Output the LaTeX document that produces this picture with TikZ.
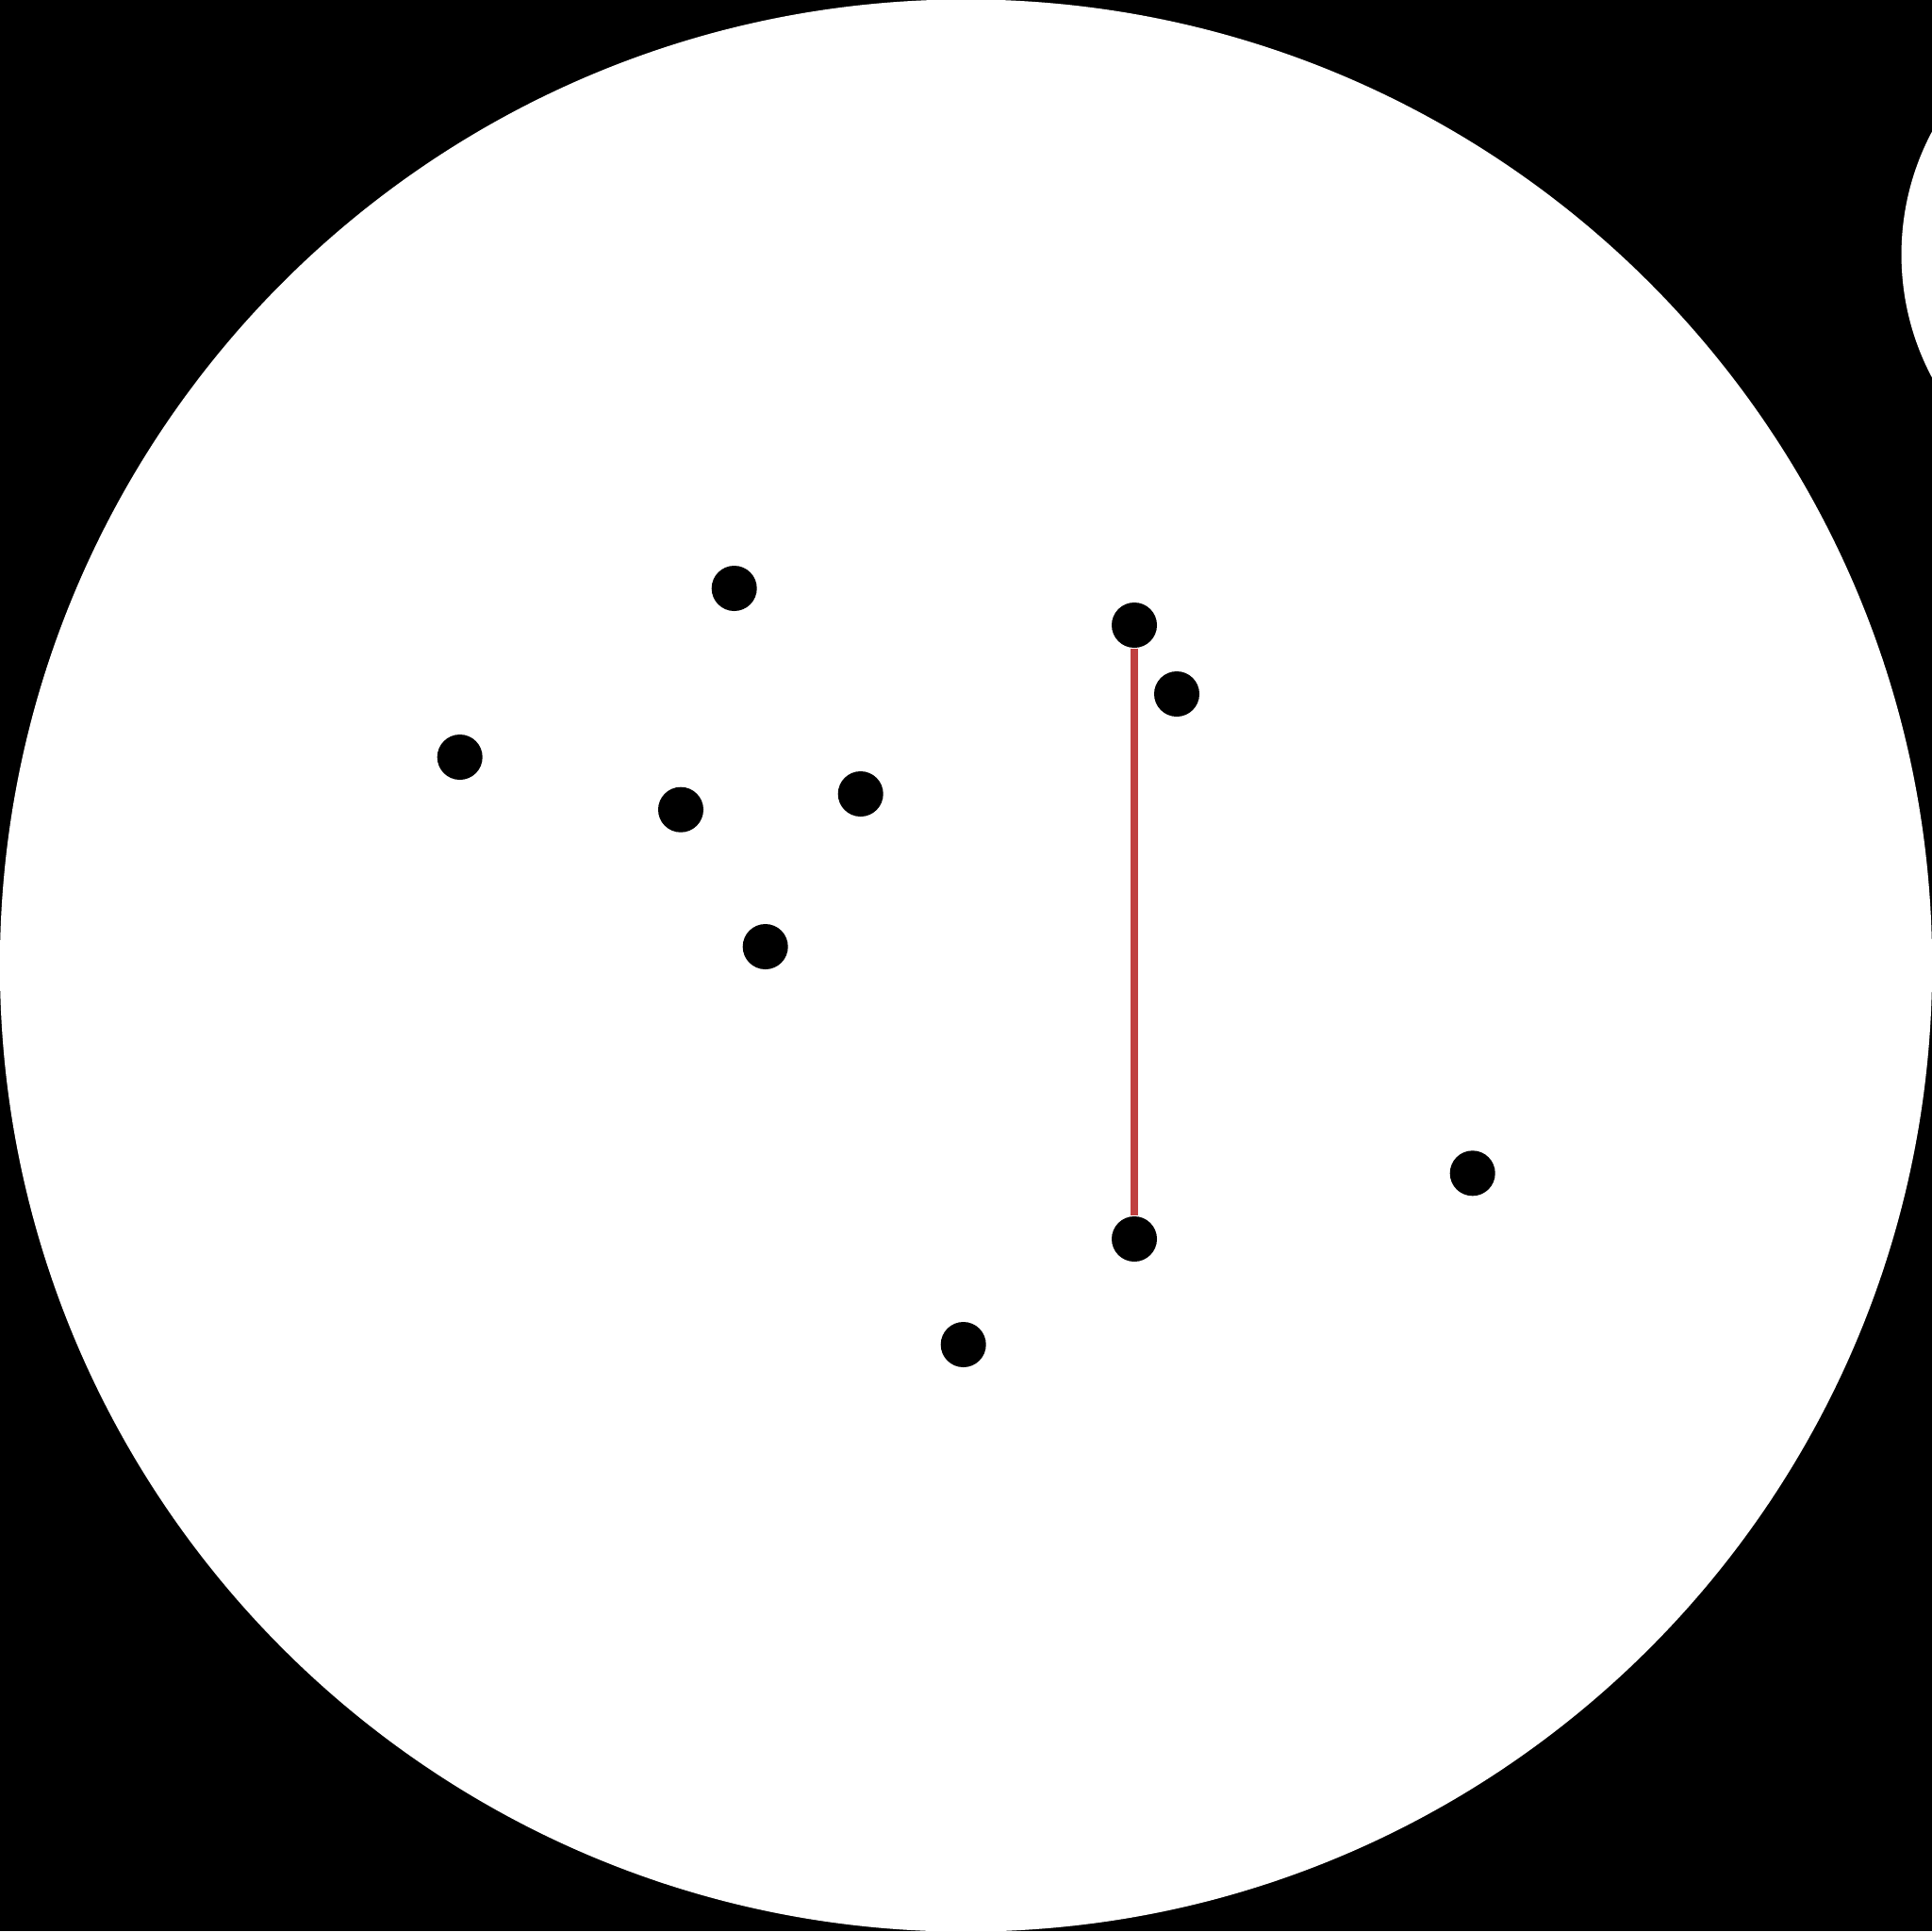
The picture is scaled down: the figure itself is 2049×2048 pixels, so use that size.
\documentclass[tikz,border=0pt]{standalone}
\usepackage{tikz}
\usetikzlibrary{positioning}

\begin{document}
\begin{tikzpicture}[
    x=0.01cm, y=-0.01cm,
    point/.style={
        circle,
        fill=black,
        inner sep=0pt,
        minimum size=0.48cm
    },
    link/.style={line width=0.08cm, draw=linkred}
]
\definecolor{linkred}{RGB}{192,64,64}
\useasboundingbox (0,0) rectangle (2049,2048);
\clip (0,0) rectangle (2049,2048);
\fill[black] (0,0) rectangle (2049,2048);
\fill[white] (1024.5,1024) circle[radius=10.24cm];
\fill[white] (2294.5,270) circle[radius=2.778cm];

\node[point] (p1) at (778.7,624) {};
\node[point] (p2) at (1203,663) {};
\node[point] (p3) at (1248,736) {};
\node[point] (p4) at (487.7,803) {};
\node[point] (p5) at (722,858.7) {};
\node[point] (p6) at (912.7,842) {};
\node[point] (p7) at (811.7,1004) {};
\node[point] (p8) at (1561.7,1244.3) {};
\node[point] (p9) at (1203,1314) {};
\node[point] (p10) at (1021.7,1426) {};

\draw[link] (p2) -- (p9);
\end{tikzpicture}
\end{document}
